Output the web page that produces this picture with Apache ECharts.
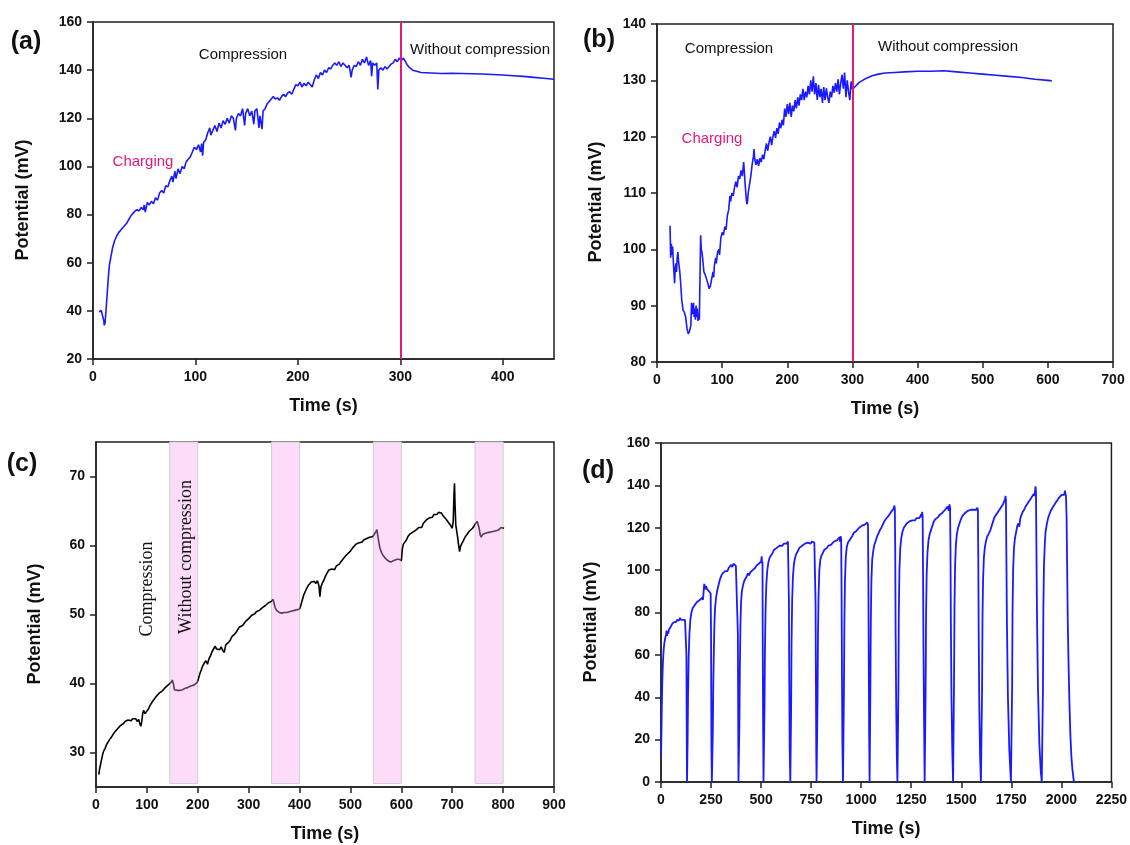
<!DOCTYPE html>
<html>
<head>
<meta charset="utf-8">
<script src="https://cdn.jsdelivr.net/npm/echarts@6/dist/echarts.min.js"></script>
<style>
html,body{margin:0;padding:0;background:#fff;}
#chart{width:1130px;height:845px;}
</style>
</head>
<body>
<div id="chart"></div>
<script>
// ---------- DATA ----------
// Panel (a): [time s, potential mV]
const dataA = [[6,39.5],[8,40.2],[9.5,41],[10.5,36],[11,34],[11.8,35],[13,42],[14,48],[15,54],[16,59],[17.5,62.5],[19,66],[21,69],[23,71],[25,72.5],[27,73.5],[29,74.5],[31,75.5],[33,76.5],[35,78],[37,79.5],[39,80.5],[41,81.5],[43,82],[45,81.5],[47,83],[49,82],[50,84],[51,81],[53,85],[55,84],[57,85.5],[59,84.5],[61,87],[63,86],[65,89],[67,90],[69,89],[71,92],[73,91.5],[75,94],[77,96],[78,93.5],[80,98],[81,95],[83,99],[85,97],[87,100],[89,99],[91,102],[93,103],[95,104],[97,106],[99,108],[101,107],[103,109],[105,106],[106,109.5],[107,104.5],[108,110],[110,111],[112,114],[114,116],[115,113],[117,115],[119,117],[121,114.5],[123,118],[125,116],[127,119],[129,117.5],[131,120],[133,118],[135,121],[137,120],[139,115],[140,120],[142,122],[144,121],[146,124],[148,117],[149,122],[151,124],[153,121],[155,123],[157,117.5],[158,123],[160,124],[162,116],[163,121],[165,115.5],[166,123],[168,124],[170,126],[172,127],[174,128],[176,129],[178,128],[180,128.5],[182,127.5],[184,129],[186,130],[188,129],[190,130.5],[192,131],[194,130],[196,132],[198,134],[200,133.5],[202,135],[204,133],[206,134.5],[208,133.5],[210,135],[212,134],[214,133],[216,136],[218,138],[220,136.5],[222,139],[224,138],[226,140],[228,139],[230,141],[232,140.5],[234,142],[236,143],[238,142],[240,143.5],[242,141.5],[244,143],[246,142],[248,141],[250,142],[252,137],[253,140],[255,142],[257,141.5],[259,143.5],[261,142],[263,144.5],[265,143],[267,145.5],[269,142],[271,144],[272,137.5],[273,143],[275,142],[277,143],[278,132],[279,140],[281,141],[283,140],[285,141.5],[287,140.5],[289,141.5],[291,142.5],[293,143],[295,144.5],[297,143.5],[299,145],[301,144],[303,145],[305,143.5],[307,142],[309,141],[312,140],[316,139.5],[320,139],[330,138.8],[340,138.6],[350,138.7],[360,138.6],[370,138.5],[380,138.4],[390,138.2],[400,138],[410,137.7],[420,137.4],[430,137],[440,136.6],[450,136.2]];

// Panel (b)
const dataB = [[20,104.2],[21,98.5],[22,101],[23,99],[24,100.5],[25,98],[26,96],[27,94],[28,96.5],[29,97.5],[30,96],[31,98.5],[32,99.5],[33,98],[34,97],[35,96],[36,94.5],[38,91],[40,89.2],[42,88.8],[44,88],[46,86],[48,85],[50,85.5],[52,86.5],[53,90.5],[54,90.7],[55,88.5],[56,90.5],[57,88],[58,89.5],[59,87.5],[60,90],[61,88],[62,89.5],[63,87.3],[64,88.5],[65,87.5],[66,95],[67,102.5],[68,100],[69,99.5],[70,98.5],[72,96],[74,95.5],[76,95.3],[78,94],[80,93],[82,93.5],[84,94.8],[86,96],[87,95],[88,97],[90,98.5],[91,97.5],[93,99.5],[95,100],[96,99],[98,102],[100,103],[102,102.5],[104,104],[106,103.5],[108,106],[110,107],[112,109.5],[113,108.5],[115,110],[117,109.5],[119,111],[121,112],[123,111],[125,113],[127,112.5],[129,114],[131,113],[133,115.5],[134,114],[135,112],[137,109],[138,108],[139,108.5],[140,110],[142,111.5],[144,113],[146,115],[148,116.5],[149,117.8],[150,116],[152,115],[154,116],[156,114.8],[158,116.2],[160,115.5],[162,116.8],[164,116],[166,117.5],[168,118.8],[170,117.5],[172,119],[174,120],[176,118.5],[178,120],[180,121],[182,119.8],[184,121.5],[186,120.5],[188,122.5],[190,121.5],[192,123],[194,122],[196,125],[198,123.5],[200,125.8],[202,124],[204,126],[206,123.5],[208,125.5],[210,124.5],[212,126.5],[214,125],[216,127],[218,125.5],[220,127.5],[222,126.5],[224,128.5],[226,126.5],[228,128],[230,127],[232,129],[234,127.5],[236,130],[238,128],[240,130.7],[242,127.5],[244,129.5],[246,126.5],[248,129.2],[250,127],[252,128.5],[254,126],[256,128.8],[258,126.5],[260,128.6],[262,127],[264,126],[266,128],[268,127],[270,129],[272,127.8],[274,129.5],[276,128],[278,130.2],[280,127.5],[282,129.5],[284,131],[286,128.5],[288,131.4],[290,127],[292,130],[294,128],[296,126.5],[298,129.8],[300,128.4],[305,129],[310,129.6],[320,130.3],[330,130.8],[340,131.1],[350,131.3],[365,131.4],[380,131.5],[400,131.6],[420,131.6],[440,131.7],[460,131.5],[480,131.3],[500,131.1],[520,130.9],[540,130.7],[560,130.5],[580,130.2],[600,130],[606,129.9]];

// Panel (c)
const dataC = [[5.5,26.8],[7,27.6],[9,28.3],[11,29],[13,29.7],[15,30.2],[18,30.6],[21,31.2],[24,31.4],[27,31.9],[30,32.2],[33,32.4],[36,32.9],[39,33],[42,33.4],[45,33.5],[48,33.9],[51,34],[54,34.2],[57,34.5],[60,34.6],[63,34.7],[66,34.8],[69,34.6],[72,34.9],[75,34.7],[78,34.9],[81,34.5],[84,34.8],[86,34.2],[88,33.8],[90,34.5],[92,35.8],[94,36.1],[96,35.6],[98,35.4],[100,36],[103,36.3],[106,36.8],[109,37],[112,37.5],[115,37.8],[118,38.1],[121,38.2],[124,38.6],[127,38.7],[130,38.9],[133,39.1],[136,39.4],[139,39.3],[142,39.8],[145,39.9],[148,40.2],[150,40.5],[152,40],[154,39.1],[157,38.9],[160,39],[165,39],[170,39.1],[175,39.3],[180,39.4],[185,39.6],[190,39.7],[195,39.9],[199,40.2],[201,40.6],[204,41.4],[207,42],[210,42.6],[213,43],[216,43.3],[219,42.8],[222,43.6],[225,44],[228,44.6],[231,44.8],[234,45.4],[237,45],[240,45.2],[243,44.9],[246,45.3],[249,44.8],[252,44.5],[255,45.6],[258,45.4],[261,46],[264,46.3],[267,46.8],[270,46.6],[273,47.2],[276,47.5],[279,47.6],[282,48.2],[285,48],[288,48.4],[291,48.7],[294,49],[297,49.1],[300,49.4],[303,49.6],[306,49.9],[309,50],[312,50.1],[315,50.4],[318,50.3],[321,50.6],[324,50.8],[327,51],[330,51],[333,51.3],[336,51.5],[339,51.7],[342,51.6],[345,51.9],[348,52.2],[350,51.6],[352,51],[355,50.6],[360,50.3],[365,50.2],[370,50.3],[375,50.3],[380,50.4],[385,50.5],[390,50.6],[395,50.7],[400,50.8],[402,51.2],[405,52],[408,52.8],[411,53.3],[414,53.8],[417,54.2],[420,54.4],[423,54.7],[426,54.5],[429,54.8],[432,54.5],[435,54.9],[438,54.2],[440,52.6],[442,54],[445,54.6],[448,55],[451,55.6],[454,55.5],[457,56.4],[460,56.2],[463,56.6],[466,56.8],[469,56.5],[472,57],[475,56.9],[478,57.3],[481,57.6],[484,57.8],[487,58.2],[490,58.3],[493,58.7],[496,58.9],[499,59.1],[502,59.3],[505,59.7],[508,59.8],[511,60.2],[514,60.1],[517,60.4],[520,60.6],[523,60.5],[526,60.8],[529,60.9],[532,61],[535,60.8],[538,61.2],[541,61.1],[544,61.3],[547,61.5],[550,62],[552,62.3],[554,61.3],[556,60.4],[558,59.6],[561,59],[564,58.6],[568,58.2],[572,57.9],[576,57.7],[580,57.6],[584,57.8],[588,57.9],[592,58],[596,58],[599,58],[600,57.8],[602,59.5],[604,60.2],[607,60.5],[610,60.8],[613,61.3],[616,61.6],[619,61.4],[622,61.9],[625,61.7],[628,62.2],[631,62.1],[634,62.6],[637,62.8],[640,62.6],[643,63.2],[646,63.3],[649,63.7],[652,63.6],[655,64],[658,64.2],[661,64.1],[664,64.5],[667,64.7],[670,64.5],[673,64.8],[676,64.6],[679,64.7],[682,64.3],[685,64.2],[688,63.8],[691,63.6],[694,63.2],[697,62.9],[700,62.5],[702,63.5],[703.5,67.5],[704.5,69],[705.5,66],[707,63],[709,62],[711,61],[713,59.8],[714.5,59.1],[716,59.8],[719,60.3],[722,60.7],[725,61.2],[728,61.4],[731,61.8],[734,62.1],[737,62.3],[740,62.5],[743,62.7],[746,63.2],[749,63.5],[751,63.7],[753,62.5],[755,61.5],[757,61.2],[760,61.6],[763,61.7],[766,61.8],[769,61.6],[772,61.9],[775,61.8],[778,62],[781,61.9],[784,62.1],[787,62],[790,62.2],[793,62.4],[796,62.6],[799,62.6],[802,62.5]];
const bandStart = [145, 345, 545, 745];
const bandEnd = [200, 400, 600, 800];

// Panel (d)
const dataD = [[0,12],[2,22],[4,35],[6,45],[8,52],[10,57],[13,62],[16,65],[20,67.5],[25,69.5],[28,71.5],[30,69],[33,71],[36,70],[40,72],[45,72.5],[50,73.5],[55,74.5],[60,75],[65,75.5],[70,76],[75,75.5],[80,76.5],[85,77],[90,76.2],[95,77.5],[100,76.5],[105,77],[110,76.5],[115,77],[120,76.5],[125,76.8],[127,60],[128,35],[129,15],[130,0],
[131,0],[133,20],[135,40],[138,58],[142,70],[147,77],[152,80],[158,82],[165,83],[172,84],[180,85],[188,85.5],[195,86],[200,86.5],[205,87],[210,86],[213,90],[216,93.5],[219,92],[222,91],[225,92.5],[230,91],[235,90.5],[240,90],[245,89.5],[248,89],[250,70],[251,40],[252,15],[254,0],
[257,0],[259,25],[261,45],[264,62],[267,75],[270,82],[275,87],[280,90],[285,92],[290,94],[296,96],[302,97.5],[308,98.5],[314,98],[320,99.5],[326,100],[332,99.5],[338,101],[344,101.5],[350,102.5],[356,101.5],[362,103],[368,102.5],[374,102],[380,102.8],[382,102.5],[384,70],[385.5,35],[387,0],
[390,0],[392,30],[394,55],[397,75],[400,85],[404,90],[410,93],[416,95],[422,94.5],[428,97],[434,98.5],[440,97.5],[446,99],[452,98.5],[458,100],[464,100.5],[470,101],[476,102],[482,101.5],[488,103],[494,102.5],[500,104],[503,106.5],[505,103],[507,104],[508,70],[510,30],[512,0],
[515,0],[517,35],[519,60],[522,80],[526,93],[531,100],[537,104],[543,106],[550,107],[557,108],[564,109.5],[571,109],[578,110.5],[585,111],[592,111.5],[599,112],[606,111.5],[613,112.5],[620,113],[627,112.5],[634,113.5],[637,113],[639,85],[641,45],[643,15],[646,0],
[648,0],[650,35],[652,65],[655,85],[659,97],[664,103],[670,106],[677,108],[684,109],[691,110.5],[698,111],[705,111.5],[712,112],[719,112.5],[726,112],[733,113],[740,113.5],[747,112.5],[754,113.5],[760,114],[766,113],[770,113.5],[772,85],[774,45],[775.5,15],[777,0],
[780,0],[782,40],[784,68],[787,88],[791,100],[796,105],[802,107],[808,108],[815,109.5],[822,110],[829,110.5],[836,111.5],[843,111],[850,112],[857,112.5],[864,113.5],[871,113],[878,114],[885,114.5],[891,115.5],[894,113.5],[897,116],[900,114.5],[902,90],[904,50],[906,20],[909,0],
[912,0],[914,45],[916,75],[919,95],[923,106],[928,111],[934,113],[941,114],[948,115],[955,116],[962,117.5],[969,118],[976,118.5],[983,119],[990,120],[997,120.5],[1004,121],[1011,121],[1018,121.5],[1025,121],[1030,122.5],[1034,121.5],[1036,95],[1038,55],[1040,20],[1042,0],
[1044,0],[1046,45],[1048,75],[1051,95],[1055,105],[1060,109],[1066,112],[1073,114],[1080,116],[1087,117.5],[1094,119],[1101,120],[1108,121.5],[1115,123],[1122,124],[1129,124.5],[1136,125.5],[1143,126.5],[1150,127.5],[1157,128],[1162,129],[1166,130.5],[1168,129],[1170,110],[1172,70],[1175,35],[1178,12],[1181,0],
[1184,0],[1186,45],[1188,80],[1191,100],[1195,110],[1200,115],[1206,118],[1213,120],[1220,121],[1227,122],[1234,122.5],[1241,123],[1248,122.5],[1255,123.5],[1262,124],[1269,123.5],[1276,124.5],[1283,125],[1290,124.5],[1296,125.5],[1300,126.5],[1303,125],[1305,127.5],[1307,125],[1309,100],[1311,65],[1314,30],[1317,0],
[1320,0],[1322,45],[1324,78],[1327,98],[1331,108],[1336,114],[1342,117],[1349,119],[1356,121],[1363,123],[1370,124],[1377,124.5],[1384,125],[1391,126],[1398,126.5],[1405,127],[1412,127.5],[1419,128.5],[1426,129],[1432,130],[1437,128],[1441,131],[1444,129.5],[1446,110],[1448,75],[1451,40],[1455,15],[1459,0],
[1462,0],[1464,50],[1466,82],[1469,102],[1473,112],[1478,117],[1484,120],[1491,122],[1498,124],[1505,125.5],[1512,126],[1519,127],[1526,127.5],[1533,128],[1540,127.5],[1547,128.5],[1554,129],[1561,128.5],[1568,129],[1575,128.5],[1580,129.5],[1583,128.5],[1585,105],[1587,70],[1590,35],[1594,12],[1598,0],
[1602,0],[1604,45],[1606,78],[1609,96],[1613,106],[1618,111],[1624,114],[1630,116],[1636,117],[1641,116.5],[1646,119],[1652,121],[1659,123],[1666,125],[1673,126],[1680,127],[1687,128],[1694,129],[1701,130],[1708,131],[1714,132.5],[1719,133.5],[1721,135],[1723,133],[1725,110],[1728,75],[1733,40],[1740,15],[1748,0],
[1752,0],[1754,45],[1756,80],[1759,100],[1763,110],[1768,115],[1774,118],[1780,121],[1786,122],[1790,120.5],[1794,124],[1800,126],[1807,127.5],[1814,128.5],[1821,130],[1828,131],[1835,132],[1842,133],[1849,134],[1856,134.5],[1862,136],[1866,135],[1869,138],[1871,139.5],[1873,137],[1875,115],[1878,80],[1883,45],[1890,18],[1897,5],[1902,0],
[1906,0],[1908,45],[1910,82],[1913,102],[1917,112],[1921,118],[1926,121],[1930,123],[1935,125],[1941,126.5],[1947,128],[1953,129],[1959,130],[1966,131],[1973,132],[1980,133],[1987,134],[1994,134.5],[2001,135.5],[2008,136],[2014,135.5],[2018,137.5],[2020,136],[2023,135],[2026,125],[2029,100],[2032,75],[2036,55],[2040,38],[2045,22],[2050,12],[2055,6],[2060,2],[2063,0]];

// tick values
const ticksAx = [0, 100, 200, 300, 400];
const ticksCy = [30, 40, 50, 60, 70];
const switchTime = 300;

// ---------- CHART ----------
const chart = echarts.init(document.getElementById('chart'), null, {renderer: 'canvas'});
const SANS = "'Liberation Sans', Arial, Helvetica, sans-serif";
const SERIF = "'Liberation Serif', 'Times New Roman', serif";
const AX = '#222';
const BLUE = '#1a1aff';
const PINK = '#e8177b';
const plain = v => String(v);

function labelStyle(extra) {
  return Object.assign({color: '#111', fontSize: 14, fontWeight: 'bold', fontFamily: SANS, margin: 11, formatter: plain}, extra || {});
}
function tickStyle(extra) {
  return Object.assign({show: true, length: 6, lineStyle: {color: AX, width: 1.5}}, extra || {});
}
function axisCommon(extra) {
  return Object.assign({
    type: 'value',
    axisLine: {show: true, onZero: false, lineStyle: {color: AX, width: 1.5}},
    axisTick: tickStyle(),
    axisLabel: labelStyle(),
    splitLine: {show: false},
    nameTextStyle: {color: '#111', fontSize: 18, fontWeight: 'bold', fontFamily: SANS},
  }, extra);
}
function xAx(grid, min, max, interval, extra) {
  return axisCommon(Object.assign({gridIndex: grid, min, max, interval, name: 'Time (s)', nameLocation: 'middle', nameGap: 38}, extra || {}));
}
function yAx(grid, min, max, interval, extra) {
  return axisCommon(Object.assign({gridIndex: grid, min, max, interval}, extra || {}));
}
const gridStyle = {show: true, borderColor: AX, borderWidth: 1.5, backgroundColor: 'transparent', containLabel: false};

const pieces = [];
let prev = null;
bandStart.forEach((s, i) => {
  pieces.push(prev === null ? {lt: s, color: '#000'} : {gte: prev, lt: s, color: '#000'});
  pieces.push({gte: s, lt: bandEnd[i], color: '#5e3a5e'});
  prev = bandEnd[i];
});
pieces.push({gte: prev, color: '#000'});

function txt(x, y, text, font, fill, rot) {
  return {type: 'text', x, y, rotation: rot || 0, silent: true, z: 100, zlevel: 0,
    style: {text, font, fill: fill || '#111', align: 'center', verticalAlign: 'middle'}};
}
const titleFont = "bold 25px " + SANS;
const nameFont = "bold 18px " + SANS;
const annFont = "15px " + SANS;
const serFont = "18px " + SERIF;

const option = {
  animation: false,
  backgroundColor: '#fff',
  grid: [
    Object.assign({left: 93, top: 22, width: 461, height: 337}, gridStyle),
    Object.assign({left: 657, top: 24, width: 456, height: 338}, gridStyle),
    Object.assign({left: 96, top: 442, width: 458, height: 345}, gridStyle),
    Object.assign({left: 661, top: 443, width: 452, height: 339}, gridStyle),
  ],
  xAxis: [
    xAx(0, 0, 450, 100, {axisTick: tickStyle({customValues: ticksAx}), axisLabel: labelStyle({customValues: ticksAx})}),
    xAx(1, 0, 700, 100),
    xAx(2, 0, 900, 100),
    xAx(3, 0, 2250, 250),
  ],
  yAxis: [
    yAx(0, 20, 160, 20),
    yAx(1, 80, 140, 10),
    yAx(2, 25, 75, null, {axisTick: tickStyle({customValues: ticksCy}), axisLabel: labelStyle({customValues: ticksCy})}),
    yAx(3, 0, 160, 20),
  ],
  visualMap: [{type: 'piecewise', show: false, seriesIndex: 2, dimension: 0, pieces: pieces}],
  series: [
    {type: 'line', xAxisIndex: 0, yAxisIndex: 0, data: dataA, showSymbol: false, symbol: 'none',
      lineStyle: {color: BLUE, width: 1.6}, z: 3,
      markLine: {silent: true, symbol: ['none', 'none'], label: {show: false},
        lineStyle: {color: PINK, width: 2, type: 'solid'}, data: [{xAxis: switchTime}]}},
    {type: 'line', xAxisIndex: 1, yAxisIndex: 1, data: dataB, showSymbol: false, symbol: 'none',
      lineStyle: {color: BLUE, width: 1.6}, z: 3,
      markLine: {silent: true, symbol: ['none', 'none'], label: {show: false},
        lineStyle: {color: PINK, width: 2, type: 'solid'}, data: [{xAxis: switchTime}]}},
    {type: 'line', xAxisIndex: 2, yAxisIndex: 2, data: dataC, showSymbol: false, symbol: 'none',
      lineStyle: {width: 1.6}, z: 3,
      markArea: {silent: true, itemStyle: {color: '#fcdcf8', borderColor: '#cfcfcf', borderWidth: 1},
        data: bandStart.map((s, i) => [{xAxis: s, yAxis: 25.5}, {xAxis: bandEnd[i], yAxis: 75}])}},
    {type: 'line', xAxisIndex: 3, yAxisIndex: 3, data: dataD, showSymbol: false, symbol: 'none',
      lineStyle: {color: BLUE, width: 1.8}, z: 3},
  ],
  graphic: {elements: [
    txt(26, 42, '(a)', titleFont),
    txt(599, 40, '(b)', titleFont),
    txt(22, 464, '(c)', titleFont),
    txt(598, 471, '(d)', titleFont),
    txt(23, 200, 'Potential (mV)', nameFont, '#111', Math.PI / 2),
    txt(596, 202, 'Potential (mV)', nameFont, '#111', Math.PI / 2),
    txt(35, 624, 'Potential (mV)', nameFont, '#111', Math.PI / 2),
    txt(591, 622, 'Potential (mV)', nameFont, '#111', Math.PI / 2),
    txt(243, 55, 'Compression', annFont, '#111'),
    txt(480, 50, 'Without compression', annFont, '#111'),
    txt(143, 162, 'Charging', annFont, PINK),
    txt(729, 49, 'Compression', annFont, '#111'),
    txt(948, 47, 'Without compression', annFont, '#111'),
    txt(712, 139, 'Charging', annFont, PINK),
    txt(147, 589, 'Compression', serFont, '#111', Math.PI / 2),
    txt(186, 557, 'Without compression', serFont, '#111', Math.PI / 2),
  ]},
};
chart.setOption(option);
</script>
</body>
</html>
